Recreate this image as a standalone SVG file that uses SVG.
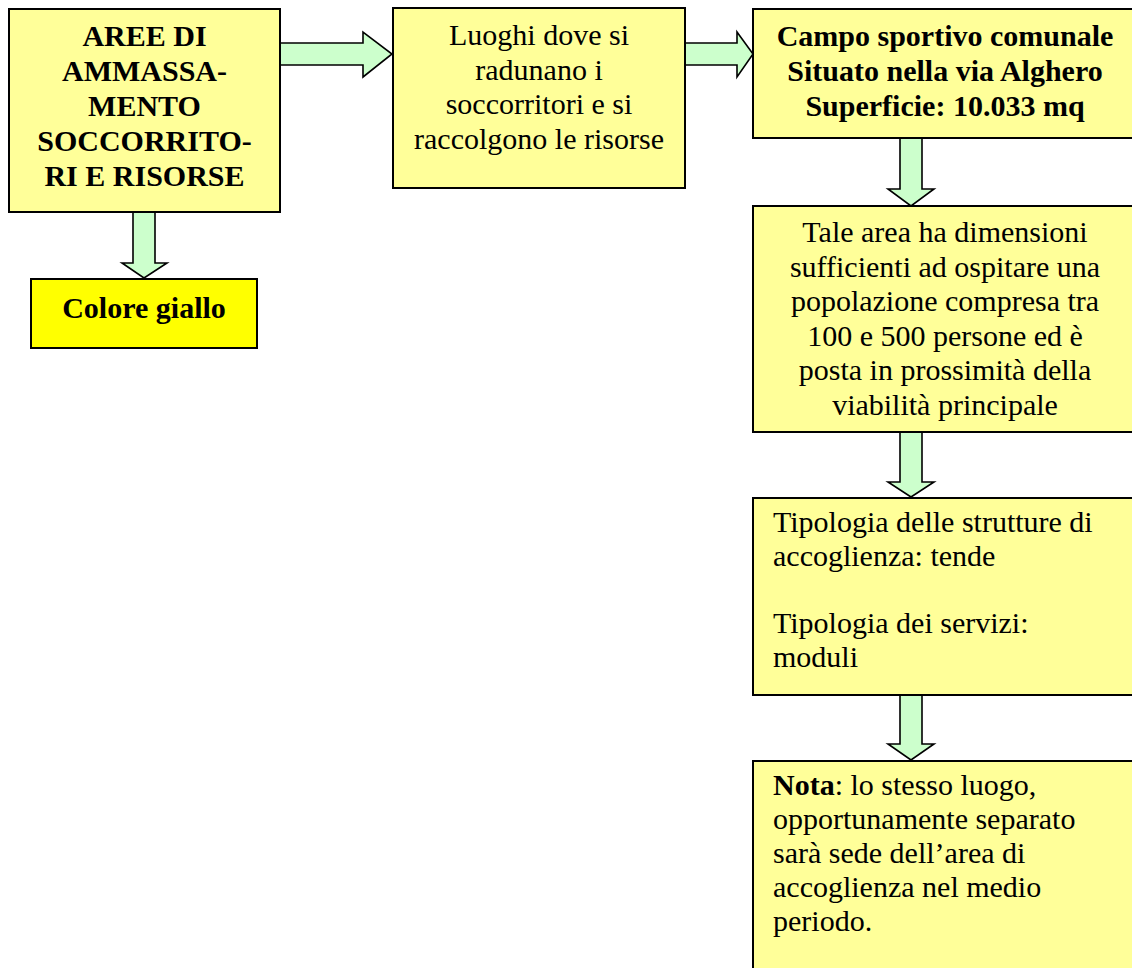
<svg xmlns="http://www.w3.org/2000/svg" width="1132" height="968" viewBox="0 0 1132 968">
<style>
.box{fill:#FFFF99;stroke:#000;stroke-width:2}
.yel{fill:#FFFF00;stroke:#000;stroke-width:2}
.arr{fill:#CCFFCC;stroke:#000;stroke-width:1.6;stroke-linejoin:miter}
text{font-family:"Liberation Serif","Times New Roman",serif;font-size:30px;fill:#000}
.b{font-weight:bold}
.c{text-anchor:middle}
</style>
<rect width="1132" height="968" fill="#fff"/>
<g id="connectors">
<path class="arr" d="M280,43 H363 V32 L392,54 L363,77 V65 H280 Z"/>
<path class="arr" d="M685,43 H737 V32 L753,54 L737,77 V65 H685 Z"/>
<path class="arr" d="M133,212 V263 H122 L144,278 L167,263 H155 V212 Z"/>
<path class="arr" d="M900,138 V189 H888 L911,206 L934,189 H922 V138 Z"/>
<path class="arr" d="M900,432 V482 H888 L911,497 L934,482 H922 V432 Z"/>
<path class="arr" d="M900,695 V744 H888 L911,760 L934,744 H922 V695 Z"/>
</g>
<g id="node-aree">
<rect class="box" x="9" y="9" width="271" height="203"/>
<text class="b c" x="144.5"><tspan x="144.5" y="46">AREE DI</tspan><tspan x="144.5" y="81">AMMASSA-</tspan><tspan x="144.5" y="116">MENTO</tspan><tspan x="144.5" y="151">SOCCORRITO-</tspan><tspan x="144.5" y="186">RI E RISORSE</tspan></text>
</g>
<g id="node-colore">
<rect class="yel" x="31" y="279" width="226" height="69"/>
<text class="b c" x="144" y="318">Colore giallo</text>
</g>
<g id="node-luoghi">
<rect class="box" x="393" y="8" width="292" height="180"/>
<text class="c"><tspan x="539" y="45">Luoghi dove si</tspan><tspan x="539" y="80">radunano i</tspan><tspan x="539" y="114">soccorritori e si</tspan><tspan x="539" y="149">raccolgono le risorse</tspan></text>
</g>
<g id="node-campo">
<rect class="box" x="753" y="9" width="390" height="129"/>
<text class="b c"><tspan x="945" y="46">Campo sportivo comunale</tspan><tspan x="945" y="81">Situato nella via Alghero</tspan><tspan x="945" y="116">Superficie: 10.033 mq</tspan></text>
</g>
<g id="node-area">
<rect class="box" x="753" y="206" width="390" height="226"/>
<text class="c"><tspan x="945" y="242">Tale area ha dimensioni</tspan><tspan x="945" y="277">sufficienti ad ospitare una</tspan><tspan x="945" y="311">popolazione compresa tra</tspan><tspan x="945" y="346">100 e 500 persone ed è</tspan><tspan x="945" y="380">posta in prossimità della</tspan><tspan x="945" y="415">viabilità principale</tspan></text>
</g>
<g id="node-tipologia">
<rect class="box" x="753" y="498" width="390" height="197"/>
<text><tspan x="773" y="532">Tipologia delle strutture di</tspan><tspan x="773" y="566">accoglienza: tende</tspan><tspan x="773" y="633">Tipologia dei servizi:</tspan><tspan x="773" y="667">moduli</tspan></text>
</g>
<g id="node-nota">
<rect class="box" x="753" y="761" width="390" height="230"/>
<text><tspan x="773" y="795"><tspan class="b">Nota</tspan>: lo stesso luogo,</tspan><tspan x="773" y="829">opportunamente separato</tspan><tspan x="773" y="863">sarà sede dell’area di</tspan><tspan x="773" y="897">accoglienza nel medio</tspan><tspan x="773" y="931">periodo.</tspan></text>
</g>
</svg>
